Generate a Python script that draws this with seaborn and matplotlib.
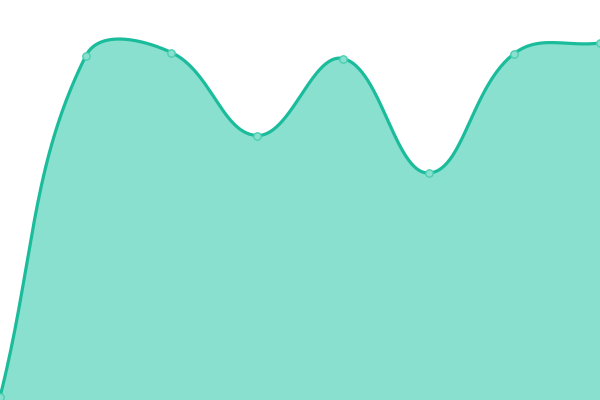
import numpy as np
import pandas as pd
import matplotlib
matplotlib.use("Agg")
import matplotlib.pyplot as plt
import seaborn as sns

positions = [0, 1, 2, 3, 4, 5, 6, 7]
values = [3, 344, 347.5, 264.5, 341.5, 227, 346.5, 357]

LINE = "#1abc9c"
FILL = "#8ae0ce"
POINT_FACE = "#8ae0ce"
POINT_EDGE = "#4ccfb2"

sns.set_theme(style="white")
fig = plt.figure(figsize=(6, 4), dpi=100)
ax = fig.add_axes([0, 0, 1, 1])
ax.set_xlim(0, 7)
ax.set_ylim(0, 400)
ax.axis("off")

# Chart.js-like spline (tension 0.4) computed in pixel space
W, H = 600.0, 400.0
px = np.array(positions, float) / 7 * W
py = np.array(values, float) / 400 * H
n = len(px)
t = 0.4
cp_prev = np.zeros((n, 2))
cp_next = np.zeros((n, 2))
for i in range(n):
    p = np.array([px[max(i - 1, 0)], py[max(i - 1, 0)]])
    c = np.array([px[i], py[i]])
    q = np.array([px[min(i + 1, n - 1)], py[min(i + 1, n - 1)]])
    d01 = np.hypot(*(c - p))
    d12 = np.hypot(*(q - c))
    tot = d01 + d12
    s01 = d01 / tot if tot else 0
    s12 = d12 / tot if tot else 0
    fa, fb = t * s01, t * s12
    cp_prev[i] = c - fa * (q - p)
    cp_next[i] = c + fb * (q - p)
cp_prev[:, 0] = np.clip(cp_prev[:, 0], 0, W)
cp_next[:, 0] = np.clip(cp_next[:, 0], 0, W)
cp_prev[:, 1] = np.clip(cp_prev[:, 1], 0, H)
cp_next[:, 1] = np.clip(cp_next[:, 1], 0, H)

xs, ys = [], []
tt = np.linspace(0, 1, 60)
for i in range(n - 1):
    P0 = np.array([px[i], py[i]])
    P1 = cp_next[i]
    P2 = cp_prev[i + 1]
    P3 = np.array([px[i + 1], py[i + 1]])
    b = ((1 - tt) ** 3)[:, None] * P0 + (3 * (1 - tt) ** 2 * tt)[:, None] * P1 \
        + (3 * (1 - tt) * tt ** 2)[:, None] * P2 + (tt ** 3)[:, None] * P3
    xs.append(b[:, 0]); ys.append(b[:, 1])
cx = np.concatenate(xs) / W * 7
cy = np.concatenate(ys) / H * 400

ax.fill_between(cx, 0, cy, color=FILL, linewidth=0, zorder=1)
ax.plot(cx, cy, color=LINE, linewidth=2.3, zorder=2, solid_capstyle="round")

df = pd.DataFrame({"x": positions, "y": values})
sns.scatterplot(data=df, x="x", y="y", ax=ax, s=28, color=POINT_FACE,
                edgecolor=POINT_EDGE, linewidth=1, zorder=3, clip_on=False)
ax.set_xlabel("")
ax.set_ylabel("")

fig.savefig("out.png", dpi=100)
